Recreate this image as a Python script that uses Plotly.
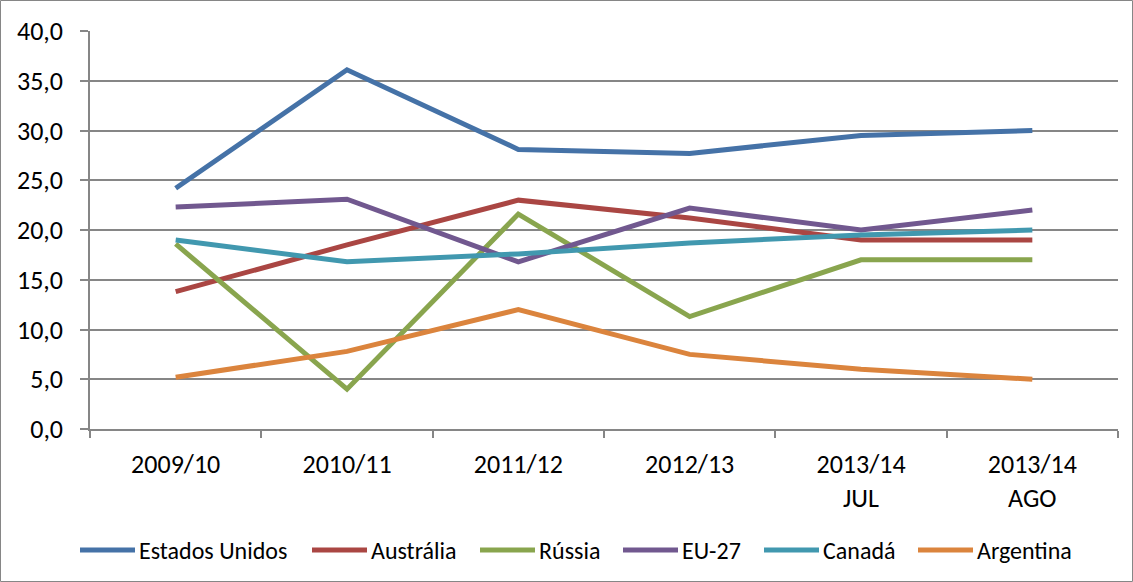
import plotly.graph_objects as go

categories = ["2009/10", "2010/11", "2011/12", "2012/13", "2013/14<br>JUL", "2013/14<br>AGO"]
estados_unidos = [24.2, 36.1, 28.1, 27.7, 29.5, 30.0]
australia = [13.8, 18.5, 23.0, 21.2, 19.0, 19.0]
russia = [18.6, 4.0, 21.6, 11.3, 17.0, 17.0]
eu27 = [22.3, 23.1, 16.8, 22.2, 20.0, 22.0]
canada = [19.0, 16.8, 17.6, 18.7, 19.5, 20.0]
argentina = [5.2, 7.8, 12.0, 7.5, 6.0, 5.0]
y_ticks = [0, 5, 10, 15, 20, 25, 30, 35, 40]

series_names = ["Estados Unidos", "Austrália", "Rússia", "EU-27", "Canadá", "Argentina"]
series_values = [estados_unidos, australia, russia, eu27, canada, argentina]
series_colors = ["#4572A7", "#AA4643", "#89A54E", "#71588F", "#4198AF", "#DB843D"]

# legend entry start positions (pixels), layout only
legend_x_px = [80, 312, 480, 623, 764, 918]

FONT = "Calibri, Carlito, Lato, 'Open Sans', Arial, sans-serif"

W, H = 1133, 582
L, R, T, B = 90, 15, 31, 153
pw, ph = W - L - R, H - T - B

fig = go.Figure()
for name, vals, col in zip(series_names, series_values, series_colors):
    fig.add_trace(go.Scatter(x=categories, y=vals, name=name, mode="lines",
                             line=dict(color=col, width=5), showlegend=False))

shapes = [dict(type="rect", xref="paper", yref="paper",
               x0=-(L - 0.5) / pw, x1=(W - L - 0.5) / pw,
               y0=-(B - 0.5) / ph, y1=(H - B - 0.5) / ph,
               line=dict(color="#868686", width=1), layer="below")]
annotations = []
leg_y = (H - B - 550) / ph
for name, col, px in zip(series_names, series_colors, legend_x_px):
    shapes.append(dict(type="line", xref="paper", yref="paper",
                       x0=(px - L) / pw, x1=(px + 55 - L) / pw, y0=leg_y, y1=leg_y,
                       line=dict(color=col, width=5)))
    annotations.append(dict(xref="paper", yref="paper", x=(px + 57 - L) / pw, y=leg_y,
                            xanchor="left", yanchor="middle", text=name, showarrow=False,
                            font=dict(family=FONT, size=24, color="black")))

fig.update_layout(
    width=W, height=H,
    margin=dict(l=L, r=R, t=T, b=B, autoexpand=False),
    paper_bgcolor="white", plot_bgcolor="white",
    separators=",.",
    font=dict(family=FONT, size=24, color="black"),
    showlegend=False,
    xaxis=dict(type="category", showgrid=False, showline=True, linecolor="#868686",
               linewidth=1.5, ticks="outside", tickson="boundaries", ticklen=7,
               tickcolor="#868686", tickwidth=1.5, range=[-0.5, 5.5],
               tickfont=dict(size=26), ticklabelstandoff=11, automargin=False),
    yaxis=dict(range=[0, 40], tickvals=y_ticks, tickformat=".1f", showgrid=True,
               gridcolor="#868686", gridwidth=1.5, showline=True, linecolor="#868686",
               linewidth=1.5, ticks="outside", ticklen=8, tickcolor="#868686",
               tickwidth=1.5, zeroline=False, ticklabelstandoff=12,
               tickfont=dict(size=26), automargin=False),
    shapes=shapes,
    annotations=annotations,
)

fig.write_html("out.html", config={"displayModeBar": False},
               post_script="document.body.style.margin='0px';")
